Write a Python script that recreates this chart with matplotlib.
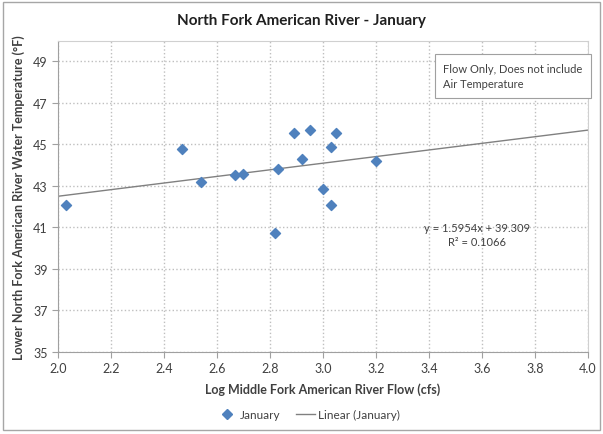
import matplotlib
matplotlib.use("Agg")
import matplotlib.pyplot as plt
from matplotlib.patches import Rectangle
from matplotlib.lines import Line2D
import numpy as np

plt.rcParams['font.family'] = ['Lato', 'DejaVu Sans']

# log flow (cfs) vs water temperature (F), January
log_flow = [2.03, 2.47, 2.54, 2.67, 2.70, 2.83, 2.82, 2.89, 2.95, 2.92,
            3.05, 3.03, 3.00, 3.03, 3.20]
water_temp = [42.06, 44.80, 43.20, 43.54, 43.56, 43.80, 40.75, 45.57, 45.68, 44.28,
              45.55, 44.87, 42.85, 42.07, 44.20]

# linear trend shown on chart
slope = 1.5954
intercept = 39.309
r_squared = 0.1066

x_ticks = [2.0, 2.2, 2.4, 2.6, 2.8, 3.0, 3.2, 3.4, 3.6, 3.8, 4.0]
y_ticks = [35, 37, 39, 41, 43, 45, 47, 49]

blue = '#4F81BD'
grid_col = '#BFBFBF'
text_col = '#404040'

fig = plt.figure(figsize=(6.03, 4.35), dpi=100)
ax = fig.add_axes([0.096, 0.189, 0.879, 0.715])

# trendline
xl = np.array([2.0, 4.0])
ax.plot(xl, slope * xl + intercept, color='#808080', lw=1.0, zorder=2)

ax.scatter(log_flow, water_temp, marker='D', s=26, color=blue,
           edgecolors=blue, zorder=3)

ax.set_xlim(2.0, 4.0)
ax.set_ylim(35, 50)
ax.set_xticks(x_ticks)
ax.set_xticklabels([f"{v:.1f}" for v in x_ticks])
ax.set_yticks(y_ticks)
ax.tick_params(labelsize=9, length=4, width=0.8, colors='#A0A0A0',
               labelcolor=text_col)
ax.grid(True, color=grid_col, linestyle=':', linewidth=1.0)
ax.set_axisbelow(True)
for side in ['top', 'right']:
    ax.spines[side].set_color('#D0D0D0')
    ax.spines[side].set_linewidth(0.8)
for side in ['left', 'bottom']:
    ax.spines[side].set_color('#A0A0A0')
    ax.spines[side].set_linewidth(0.8)

ax.set_xlabel("Log Middle Fork American River Flow (cfs)", fontsize=9,
              fontweight='bold', color=text_col, labelpad=6)
ax.set_ylabel("Lower North Fork American River Water Temperature (°F)", fontsize=9,
              fontweight='bold', color=text_col, labelpad=6)
fig.text(0.5, 0.952, "North Fork American River - January", ha='center',
         va='center', fontsize=11, fontweight='bold', color='#202020')

# note box
ax.text(0.727, 0.93, "Flow Only, Does not include\nAir Temperature",
        transform=ax.transAxes, ha='left', va='top', fontsize=8,
        color=text_col, linespacing=1.55,
        bbox=dict(boxstyle='square,pad=0.75', fc='white', ec='#A0A0A0', lw=0.8))

# equation
ax.text(0.79, 0.378, f"y = {slope}x + {intercept}\nR² = {r_squared}",
        transform=ax.transAxes, ha='center', va='center', fontsize=8,
        color=text_col, linespacing=1.3)

# legend
handles = [Line2D([], [], marker='D', color=blue, lw=0, markersize=5),
           Line2D([], [], color='#808080', lw=1.0)]
fig.legend(handles, ["January", "Linear (January)"], loc='center',
           bbox_to_anchor=(0.512, 0.045), ncol=2, frameon=False, fontsize=8.5,
           handlelength=1.6, handletextpad=0.3, columnspacing=1.3,
           labelcolor=text_col)

fig.patches.append(Rectangle((0.005, 0.01), 0.99, 0.983, transform=fig.transFigure,
                             fill=False, ec='#A6A6A6', lw=1.0))

fig.savefig("out.png", dpi=100)
